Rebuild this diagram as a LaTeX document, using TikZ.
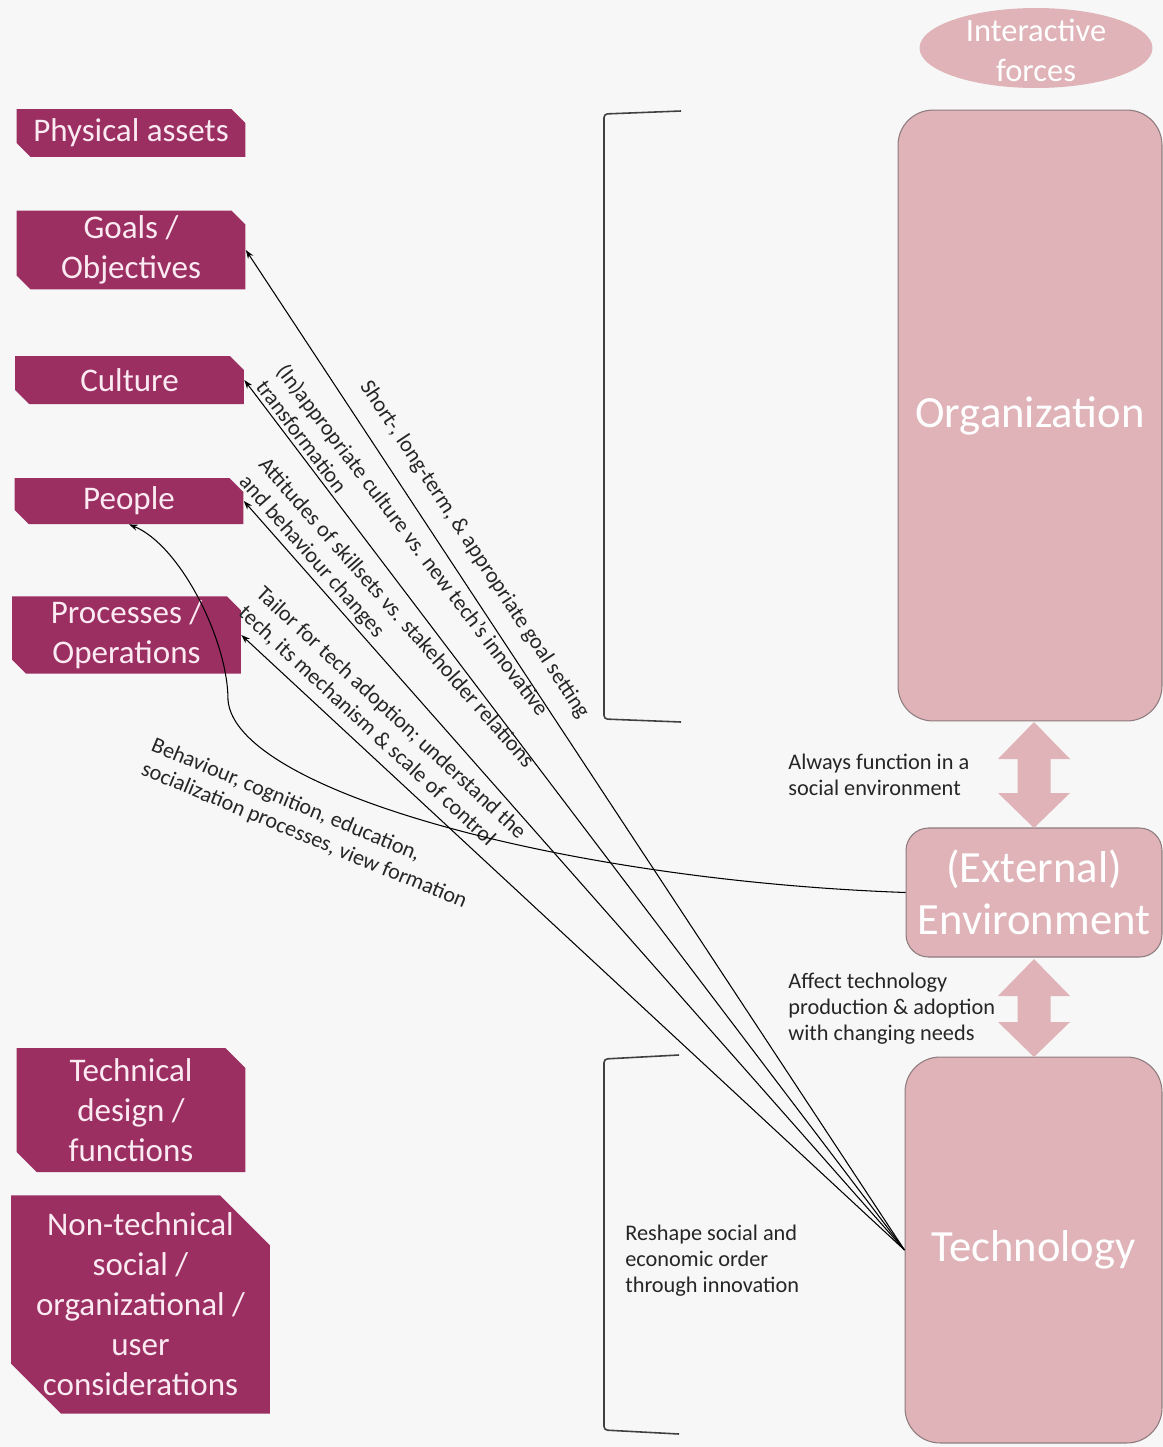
\documentclass[tikz,border=0pt]{standalone}
\usepackage{fontspec}
\setmainfont{Carlito}
\usetikzlibrary{arrows.meta, shapes.misc, shapes.geometric}

\definecolor{pagebg}{HTML}{F7F7F7}
\definecolor{plum}{HTML}{9B2F62}
\definecolor{plumtext}{HTML}{FBEAF2}
\definecolor{rose}{HTML}{DFB3B8}
\definecolor{roseline}{HTML}{8E7B7E}
\definecolor{inktext}{HTML}{262626}

\tikzset{
  factor/.style = {chamfered rectangle, chamfered rectangle corners={north east, south west},
    chamfered rectangle sep=0.14cm, fill=plum, text=plumtext, align=center, inner sep=0pt,
    minimum width=4.58cm, font=\fontsize{18.8}{22.8}\selectfont},
  force/.style = {rectangle, rounded corners=0.7cm, fill=rose, draw=roseline, line width=0.6pt,
    text=white, align=center, font=\fontsize{25.4}{29.6}\selectfont},
  note/.style = {text=inktext, align=left, inner sep=0pt, font=\fontsize{12.7}{14.8}\selectfont},
  tag/.style = {sloped, above, text=inktext, align=left, inner sep=2pt, font=\fontsize{12.6}{14.8}\selectfont},
  link/.style = {{Stealth[length=5pt,width=3.5pt]}-, line width=0.6pt, black},
  brace/.style = {line width=0.9pt, draw=black!75, rounded corners=2pt},
}

% two-headed block arrow: x, top y, bottom y
\newcommand{\twoway}[3]{%
  \fill[rose] (#1,#2) -- (#1+36,#2+37) -- (#1+16.5,#2+37) -- (#1+16.5,#3-35) -- (#1+36,#3-35)
    -- (#1,#3) -- (#1-36,#3-35) -- (#1-16.5,#3-35) -- (#1-16.5,#2+37) -- (#1-36,#2+37) -- cycle;}

\begin{document}
\begin{tikzpicture}[x=0.02cm, y=-0.02cm]
  \useasboundingbox (0,0) rectangle (1163,1447);
  \fill[pagebg] (0,0) rectangle (1163,1447);

  % left column
  \node[factor, minimum height=0.96cm] (physical) at (131,133) {Physical assets};
  \node[factor, minimum height=1.52cm, inner ysep=-0.04cm] (goals) at (131,250) {Goals /\\Objectives};
  \node[factor, minimum height=0.96cm] (culture) at (129.5,380) {Culture};
  \node[factor, minimum height=0.92cm] (people) at (129,501) {People};
  \node[factor, minimum height=1.5cm, inner ysep=-0.05cm] (processes) at (126.5,635) {Processes /\\Operations};
  \node[factor, minimum height=2.48cm, chamfered rectangle sep=0.2cm] (technical) at (131,1110) {Technical\\design /\\functions};
  \node[factor, minimum width=5.18cm, minimum height=4.34cm, chamfered rectangle sep=0.5cm, inner ysep=-0.15cm] (nontech) at (140.5,1304.5)
    {Non-technical\\social /\\organizational /\\user\\considerations};

  % right column
  \fill[rose] (1036,48) ellipse [x radius=2.33cm, y radius=0.8cm];
  \node[text=white, align=center, font=\fontsize{18.5}{22.8}\selectfont] (forces) at (1036,50) {Interactive\\forces};
  \node[force, minimum width=5.28cm, minimum height=12.22cm] (org) at (1030,415.5) {Organization};
  \node[force, minimum width=5.12cm, minimum height=2.58cm, rounded corners=0.45cm] (env) at (1034,892.5) {(External)\\Environment};
  \node[force, minimum width=5.14cm, minimum height=7.72cm] (tech) at (1033.5,1250) {Technology};

  \twoway{1034}{722}{828}
  \twoway{1034}{959}{1057}

  \node[note, anchor=west] (social) at (788,775) {Always function in a\\social environment};
  \node[note, anchor=west] (affect) at (788,1009) {Affect technology\\production \& adoption\\with changing needs};
  \node[note, anchor=west] (reshape) at (625,1261) {Reshape social and\\economic order\\through innovation};

  % brackets
  \draw[brace] (681,111) -- (604,114) -- (604,719) -- (681,722);
  \draw[brace] (679,1055) -- (604,1059) -- (604,1430) -- (679,1434);

  % links from technology
  \draw[link] (goals.east) -- node[tag, pos=0.314, yshift=7pt] {Short-, long-term, \& appropriate goal setting} (tech.west);
  \draw[link] (culture.east) -- node[tag, pos=0.21] {(In)appropriate culture vs. new tech's innovative\\transformation} (tech.west);
  \draw[link] (people.east) -- node[tag, pos=0.185] {Attitudes of skillsets vs. stakeholder relations\\and behaviour changes} (tech.west);
  \draw[link] (processes.east) -- node[tag, pos=0.18, yshift=3pt] {Tailor for tech adoption; understand the\\tech, its mechanism \& scale of control} (tech.west);

  % link from the environment
  \draw[link] (people.south) .. controls (180,545) and (228,640) .. (228,700)
    .. controls (235,790) and (560,880) .. (env.west);
  \node[text=inktext, align=left, rotate=-22.5, font=\fontsize{12.6}{14.8}\selectfont] (behaviour) at (309,824)
    {Behaviour, cognition, education,\\socialization processes, view formation};
\end{tikzpicture}
\end{document}
